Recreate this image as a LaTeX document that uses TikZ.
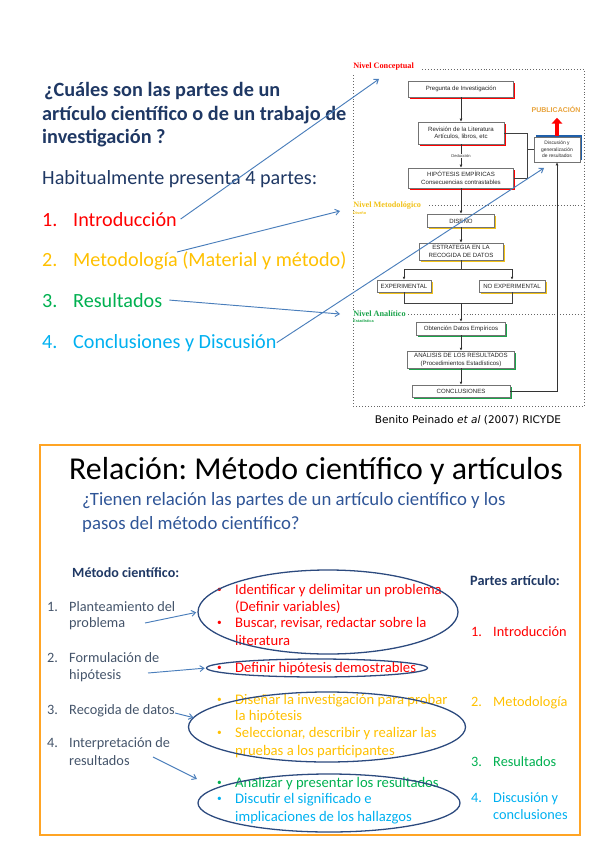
\documentclass[tikz,border=0pt]{standalone}
\usepackage{fontspec}
\setmainfont{Carlito}
\newfontfamily\diafont{Liberation Sans}
\newfontfamily\lvlfont{Liberation Serif}
\newfontfamily\capfont{DejaVu Sans}
\usetikzlibrary{arrows.meta,shapes.geometric,shadows}

\definecolor{navy}{HTML}{1F3864}
\definecolor{subblue}{HTML}{2F5597}
\definecolor{slate}{HTML}{44546A}
\definecolor{pred}{HTML}{FF0000}
\definecolor{porange}{HTML}{FFC000}
\definecolor{pgreen}{HTML}{00B050}
\definecolor{pcyan}{HTML}{00B0F0}
\definecolor{linkblue}{HTML}{4A7EBB}
\definecolor{ovalblue}{HTML}{2C4A7E}
\definecolor{framorange}{HTML}{FFA424}
\definecolor{pubor}{HTML}{E8A33C}
\definecolor{diagreen}{HTML}{1AA34A}
\definecolor{diayel}{HTML}{F2C218}
\definecolor{diablue}{HTML}{1F5FAA}

\newcommand{\fsz}[2]{\fontsize{#1}{#2}\selectfont}
\newcommand{\pxl}[1]{#1*0.03cm}
\newcommand{\tnum}[1]{\makebox[0.93cm][l]{#1}}
\newcommand{\lnum}[1]{\makebox[0.66cm][l]{#1}}
\newcommand{\bul}{\makebox[0.54cm][l]{\fsz{8}{8}\raisebox{0.3ex}{•}}}
\frenchspacing

\begin{document}
\begin{tikzpicture}[x=0.03cm,y=-0.03cm,
  qtxt/.style={font=\bfseries\fsz{17.3}{20},text=navy,anchor=base west,inner sep=0pt},
  ptxt/.style={font=\fsz{17.2}{20},anchor=base west,inner sep=0pt},
  btxt/.style={font=\fsz{12.2}{14},anchor=base west,inner sep=0pt},
  ctxt/.style={font=\fsz{12.5}{14},anchor=base west,inner sep=0pt},
  dbox/.style={draw=black!55,line width=0.35pt,fill=white,font=\diafont\fsz{5.2}{6.2},
    text=black!85,align=center,inner sep=0pt},
  sdbox/.style={dbox,drop shadow={shadow xshift=1.3pt,shadow yshift=-1.3pt,fill=#1,opacity=1}},
  flow/.style={-{Latex[length=2.6pt,width=2.4pt]},line width=0.5pt,black!80},
  wire/.style={line width=0.5pt,black!75},
  link/.style={linkblue,line width=0.8pt,-{Straight Barb[length=3.5pt,width=5pt]}},
  oval/.style={ellipse,draw=ovalblue,line width=1.1pt,inner sep=0pt,outer sep=0pt},
  lvl/.style={font=\lvlfont\bfseries\fsz{7}{8},anchor=base west,inner sep=0.6pt,fill=white},
  sublvl/.style={font=\diafont\bfseries\fsz{3.3}{4},anchor=base west,inner sep=0pt},
  dots/.style={dotted,black!60,line width=0.5pt}]
\useasboundingbox (0,0) rectangle (600,848);

% question and the four parts
\node[qtxt] (q1) at (44,97) {¿Cuáles son las partes de un};
\node[qtxt] (q2) at (42,121) {artículo científico o de un trabajo de};
\node[qtxt] (q3) at (42,144) {investigación ?};
\node[ptxt,text=navy] (hab) at (42,185) {Habitualmente presenta 4 partes:};
\node[ptxt,text=pred] (pt1) at (42,226) {\tnum{1.}Introducción};
\node[ptxt,text=porange] (pt2) at (42,266) {\tnum{2.}Metodología (Material y método)};
\node[ptxt,text=pgreen] (pt3) at (42,307) {\tnum{3.}Resultados};
\node[ptxt,text=pcyan] (pt4) at (42,348) {\tnum{4.}Conclusiones y Discusión};

% research process diagram
\draw[dots] (422,69) -- (584,69) -- (584,406) -- (353,406) -- (353,73);
\draw[dots] (429,205) -- (584,205);
\draw[dots] (408,314) -- (584,314);
\node[lvl,text=pred] (nconc) at (352.5,68.5) {Nivel Conceptual};
\node[lvl,text=diayel] (nmet) at (352.5,207.5) {Nivel Metodológico};
\node[sublvl,text=diayel] (nmets) at (353,214) {Diseño};
\node[lvl,text=diagreen] (nana) at (352.5,316.5) {Nivel Analítico};
\node[sublvl,text=diagreen] (nanas) at (353,322) {Estadística};

\node[sdbox=pred,minimum width=\pxl{105},minimum height=\pxl{16}] (preg) at (461,89) {Pregunta de Investigación};
\node[sdbox=pred,minimum width=\pxl{86},minimum height=\pxl{22}] (revis) at (461,133) {Revisión de la Literatura\\Artículos, libros, etc};
\node[sdbox=pred,minimum width=\pxl{105},minimum height=\pxl{20}] (hipo) at (461,178) {HIPÓTESIS EMPÍRICAS\\Consecuencias contrastables};
\node[dbox,drop shadow={shadow xshift=1.3pt,shadow yshift=1.3pt,fill=diablue,opacity=1},
  font=\diafont\fsz{4.2}{5.6},minimum width=\pxl{46},minimum height=\pxl{25}] (disc) at (557,149.5) {Discusión y\\generalización\\de resultados};
\node[font=\diafont\bfseries\fsz{6}{7},text=pubor] (pub) at (556,109) {PUBLICACIÓN};
\node[sdbox=diayel,minimum width=\pxl{67},minimum height=\pxl{13}] (dise) at (461,220.5) {DISEÑO};
\node[sdbox=diayel,minimum width=\pxl{84},minimum height=\pxl{17}] (estr) at (461,251.5) {ESTRATEGIA EN LA\\RECOGIDA DE DATOS};
\node[sdbox=diayel,minimum width=\pxl{54},minimum height=\pxl{12}] (expe) at (404,286) {EXPERIMENTAL};
\node[sdbox=diayel,minimum width=\pxl{66},minimum height=\pxl{12}] (noex) at (512,286) {NO EXPERIMENTAL};
\node[sdbox=diagreen,minimum width=\pxl{89},minimum height=\pxl{13}] (obte) at (461,328.5) {Obtención Datos Empíricos};
\node[sdbox=diagreen,minimum width=\pxl{107},minimum height=\pxl{17}] (anal) at (461,359.5) {ANÁLISIS DE LOS RESULTADOS\\(Procedimientos Estadísticos)};
\node[sdbox=diagreen,minimum width=\pxl{98},minimum height=\pxl{12}] (conc) at (461,391) {CONCLUSIONES};

\coordinate (brk) at (527,149.5);
\coordinate (splt) at (461,269);
\coordinate (jn) at (461,303);
\draw[flow] (preg) -- (revis);
\draw[flow] (revis) -- node[fill=white,font=\diafont\fsz{3.5}{4},inner sep=0.6pt] (ded) {Deducción} (hipo);
\draw[wire] (revis.east) -- (revis.east -| brk) -- (hipo.east -| brk) -- (hipo.east);
\draw[wire] (brk) -- (disc);
\draw[pred,line width=2.6pt,shorten <=1pt,-{Triangle[length=5pt,width=9pt]}] (disc.north) -- ++(0,-19);
\draw[flow] (hipo) -- (dise);
\draw[flow] (dise) -- (estr);
\draw[wire] (estr) -- (splt);
\draw[wire] (expe.north |- splt) -- (noex.north |- splt);
\draw[flow] (expe.north |- splt) -- (expe);
\draw[flow] (noex.north |- splt) -- (noex);
\draw[wire] (expe) -- (expe.south |- jn) -- (noex.south |- jn) -- (noex);
\draw[flow] (jn) -- (obte);
\draw[flow] (obte) -- (anal);
\draw[flow] (anal) -- (conc);
\draw[flow,line width=0.8pt] (conc) -| (disc);

\node[font=\capfont\fsz{9}{11}] (cap) at (468,420) {Benito Peinado \textit{et al} (2007) RICYDE};

% links from the parts to the levels
\coordinate (lkC) at (379,79);
\coordinate (lkM) at (340,211);
\coordinate (lkA) at (340,314);
\coordinate (lkD) at (544,168);
\coordinate (mS) at (177,252);
\draw[link] ([xshift=3pt]pt1.east) -- (lkC);
\draw[link] (mS) -- (lkM);
\draw[link] ([xshift=6pt]pt3.east) -- (lkA);
\draw[link] (pt4.east) -- (lkD);

% relation panel
\draw[framorange,line width=2.5pt] (40,445) rectangle (580,835);
\node[font=\fsz{27.2}{32},anchor=base west,inner sep=0pt] (ttl) at (69,479) {Relación: Método científico y artículos};
\node[btxt,font=\fsz{16}{19},text=subblue] (sub1) at (82,505) {¿Tienen relación las partes de un artículo científico y los};
\node[btxt,font=\fsz{16}{19},text=subblue] (sub2) at (82,529) {pasos del método científico?};

\node[btxt,font=\bfseries\fsz{12}{14},text=navy] (mhd) at (72,577) {Método científico:};
\node[btxt,text=slate] (m1a) at (47,611) {\lnum{1.}Planteamiento del};
\node[btxt,text=slate] (m1b) at (69,627) {problema};
\node[btxt,text=slate] (m2a) at (47,662) {\lnum{2.}Formulación de};
\node[btxt,text=slate] (m2b) at (69,679) {hipótesis};
\node[btxt,text=slate] (m3) at (47,714) {\lnum{3.}Recogida de datos};
\node[btxt,text=slate] (m4a) at (47,747) {\lnum{4.}Interpretación de};
\node[btxt,text=slate] (m4b) at (69,765) {resultados};

\node[ctxt,text=pred] (b1a) at (217,594) {\bul Identificar y delimitar un problema};
\node[ctxt,text=pred] (b1b) at (235,611) {(Definir variables)};
\node[ctxt,text=pred] (b2a) at (217,627) {\bul Buscar, revisar, redactar sobre la};
\node[ctxt,text=pred] (b2b) at (235,645) {literatura};
\node[ctxt,text=pred] (b3) at (217,672) {\bul Definir hipótesis demostrables};
\node[ctxt,text=porange] (b4a) at (217,704) {\bul Diseñar la investigación para probar};
\node[ctxt,text=porange] (b4b) at (235,720) {la hipótesis};
\node[ctxt,text=porange] (b5a) at (217,737) {\bul Seleccionar, describir y realizar las};
\node[ctxt,text=porange] (b5b) at (235,755) {pruebas a los participantes};
\node[ctxt,text=pgreen] (b6) at (217,787) {\bul Analizar y presentar los resultados};
\node[ctxt,text=pcyan] (b7a) at (217,803) {\bul Discutir el significado e};
\node[ctxt,text=pcyan] (b7b) at (235,821) {implicaciones de los hallazgos};

\node[btxt,font=\bfseries\fsz{12.2}{14},text=navy] (phd) at (470,585) {Partes artículo:};
\node[btxt,text=pred] (p1) at (471,636) {\lnum{1.}Introducción};
\node[btxt,text=porange] (p2) at (471,706) {\lnum{2.}Metodología};
\node[btxt,text=pgreen] (p3) at (471,766) {\lnum{3.}Resultados};
\node[btxt,text=pcyan] (p4a) at (471,802) {\lnum{4.}Discusión y};
\node[btxt,text=pcyan] (p4b) at (493,819) {conclusiones};

\node[oval,minimum width=\pxl{260},minimum height=\pxl{84}] (ell1) at (328,612) {};
\node[oval,minimum width=\pxl{221},minimum height=\pxl{18}] (ell2) at (317,668) {};
\node[oval,minimum width=\pxl{277},minimum height=\pxl{70}] (ell3) at (327,727) {};
\node[oval,minimum width=\pxl{262},minimum height=\pxl{58}] (ell4) at (329,803) {};

\coordinate (a1s) at (145,623);
\coordinate (a2s) at (148,673);
\coordinate (a3s) at (175,713);
\coordinate (a4s) at (153,757);
\coordinate (a4e) at (197,779);
\draw[link,shorten >=1.5pt] (a1s) -- (ell1.west);
\draw[link,shorten >=1.5pt] (a2s) -- (ell2.west);
\draw[link] (a3s) -- (ell3.176);
\draw[link] (a4s) -- (a4e);
\end{tikzpicture}
\end{document}
